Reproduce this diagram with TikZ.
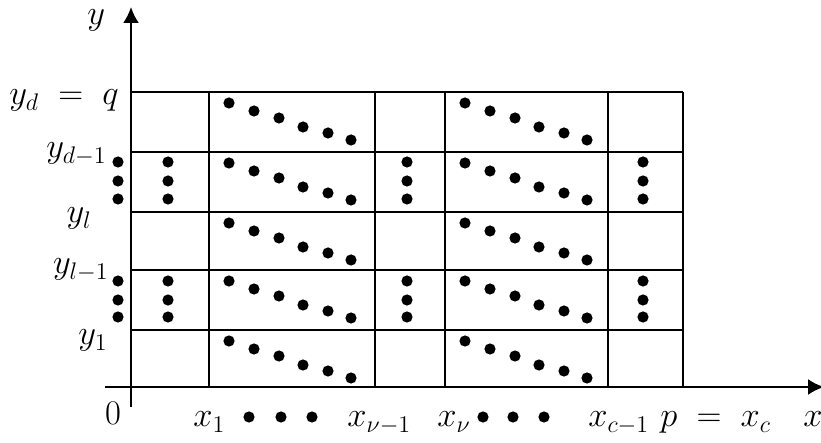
\documentclass[tikz,border=0pt]{standalone}
\usetikzlibrary{arrows.meta}
\begin{document}
\begin{tikzpicture}[x=0.5pt,y=-0.5pt,
  axis/.style={line width=1.1pt,-{Latex[length=8pt,width=8pt]}},
  gridline/.style={line width=0.8pt},
  lbl/.style={inner sep=0pt,font=\fontsize{17}{20}\selectfont},
  dot/.style={fill=black}]
\useasboundingbox (0,0) rectangle (821,443);
% grid
\draw[gridline] (131,92) -- (683,92);
\foreach \yy in {152,212,270,330}
  \draw[gridline] (131,\yy) -- (683,\yy);
\foreach \xx in {209,375,445,608,683}
  \draw[gridline] (\xx,92) -- (\xx,387);
% axes
\coordinate (xs) at (105,387);
\coordinate (xe) at (824,387);
\coordinate (ys) at (131,407);
\coordinate (ye) at (131,7);
\draw[axis] (xs) -- (xe);
\draw[axis] (ys) -- (ye);
% diagonal dots
\foreach \cx in {209,445}
  \foreach \ry in {92,152,212,270,330}
    \foreach \dx/\dy in {20/11,45/19,70/26,94/35,119/41,142/48}
      \fill[dot] (\cx+\dx,\ry+\dy) circle (2.8pt);
% vertical dots
\foreach \vx in {118,168,407,643}
  \foreach \vy in {162,181,199,281,300,317}
    \fill[dot] (\vx,\vy) circle (2.8pt);
% x-axis dots
\foreach \hx in {249,281,312,483,513,544}
  \fill[dot] (\hx,417) circle (2.8pt);
% labels
\node[lbl,anchor=base west] (ly) at (87,25) {$y$};
\node[lbl,anchor=base east] (lyd) at (119,105) {$y_d\;=\;q$};
\node[lbl,anchor=base east] (lyd1) at (107,158) {$y_{d-1}$};
\node[lbl,anchor=base east] (lyl) at (92,223) {$y_l$};
\node[lbl,anchor=base east] (lyl1) at (109,274) {$y_{l-1}$};
\node[lbl,anchor=base east] (ly1) at (108,345) {$y_1$};
\node[lbl,anchor=base] (l0) at (113,425) {$0$};
\node[lbl,anchor=base west] (lx1) at (193,427) {$x_1$};
\node[lbl,anchor=base west] (lxn1) at (347,427) {$x_{\nu-1}$};
\node[lbl,anchor=base west] (lxn) at (437,427) {$x_\nu$};
\node[lbl,anchor=base west] (lxc1) at (588,427) {$x_{c-1}$};
\node[lbl,anchor=base west] (lp) at (660,427) {$p\;=\;x_c$};
\node[lbl,anchor=base west] (lx) at (803,427) {$x$};
\end{tikzpicture}
\end{document}
